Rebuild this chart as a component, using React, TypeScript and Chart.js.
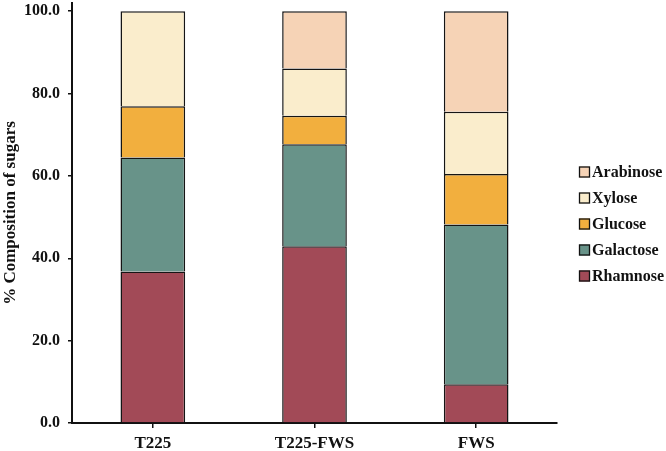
import { useEffect, useRef } from "react";
import { Chart, registerables } from "chart.js";

Chart.register(...registerables);

// Sugar composition (%) per sample
const categories = ["T225", "T225-FWS", "FWS"];
const rhamnose = [36.8, 42.9, 9.4];
const galactose = [27.7, 24.8, 38.8];
const glucose = [12.4, 6.9, 12.3];
const xylose = [23.1, 11.5, 15.1];
const arabinose = [null, 13.9, 24.4];
const yTicks = [0, 20, 40, 60, 80, 100];

const FONT = "'Liberation Serif', 'Times New Roman', Times, serif";

// Legend drawn to the right of the plot, top entry = last stacked series
const sideLegend = {
  id: "sideLegend",
  afterDraw(chart: any) {
    const { ctx, chartArea } = chart;
    const items = chart.data.datasets.slice().reverse();
    const step = 26;
    const box = 11;
    const x = chartArea.right + 22;
    const yMid = (chartArea.top + chartArea.bottom) / 2 + 11;
    const y0 = yMid - (step * (items.length - 1)) / 2;
    ctx.save();
    ctx.font = `bold 16px ${FONT}`;
    ctx.textBaseline = "middle";
    ctx.textAlign = "left";
    items.forEach((ds: any, i: number) => {
      const cy = Math.round(y0 + i * step);
      ctx.fillStyle = ds.backgroundColor;
      ctx.fillRect(x, cy - box / 2, box, box);
      ctx.strokeStyle = "#111";
      ctx.lineWidth = 1.3;
      ctx.strokeRect(x + 0.5, cy - box / 2 + 0.5, box - 1, box - 1);
      ctx.fillStyle = "#111";
      ctx.fillText(ds.label, x + box + 2, cy + 1);
    });
    ctx.restore();
  },
};

export default function App() {
  const ref = useRef<HTMLCanvasElement>(null);

  useEffect(() => {
    if (!ref.current) return;
    const mk = (label: string, data: (number | null)[], color: string) => ({
      label,
      data,
      backgroundColor: color,
      borderColor: "#151515",
      borderWidth: 1.5,
      barPercentage: 0.4,
      categoryPercentage: 1,
    });
    const chart = new Chart(ref.current, {
      type: "bar",
      data: {
        labels: categories,
        datasets: [
          mk("Rhamnose", rhamnose, "#A24A57"),
          mk("Galactose", galactose, "#689389"),
          mk("Glucose", glucose, "#F2AF3E"),
          mk("Xylose", xylose, "#FAEDCC"),
          mk("Arabinose", arabinose, "#F6D3B6"),
        ],
      },
      options: {
        animation: false,
        responsive: false,
        devicePixelRatio: 1,
        layout: { padding: { top: 3, right: 109, left: 0, bottom: 0 } },
        plugins: {
          legend: { display: false },
          tooltip: { enabled: false },
        },
        scales: {
          x: {
            stacked: true,
            offset: true,
            grid: {
              display: true,
              drawOnChartArea: false,
              drawTicks: true,
              tickLength: 5,
              offset: false,
              color: "#111",
              lineWidth: 1.5,
            },
            border: { display: true, color: "#111", width: 2 },
            ticks: {
              color: "#111",
              padding: 5,
              font: { family: FONT, size: 17, weight: "bold" },
            },
            afterFit(scale: any) {
              scale.height = 28;
              scale.paddingLeft = 0;
              scale.paddingRight = 0;
            },
          },
          y: {
            stacked: true,
            min: 0,
            max: 102,
            grid: {
              display: true,
              drawOnChartArea: false,
              drawTicks: true,
              tickLength: 4,
              color: "#111",
              lineWidth: 1.5,
            },
            border: { display: true, color: "#111", width: 2 },
            afterBuildTicks(scale: any) {
              scale.ticks = yTicks.map((v) => ({ value: v }));
            },
            ticks: {
              color: "#111",
              padding: 8,
              font: { family: FONT, size: 16, weight: "bold" },
              callback: (v: any) => Number(v).toFixed(1),
            },
            title: {
              display: true,
              text: "% Composition of sugars",
              color: "#111",
              padding: { top: 0, bottom: 0 },
              font: { family: FONT, size: 17, weight: "bold" },
            },
            afterFit(scale: any) {
              scale.width = 72;
              scale.paddingTop = 0;
              scale.paddingBottom = 0;
            },
          },
        },
      },
      plugins: [sideLegend],
    });
    return () => chart.destroy();
  }, []);

  return (
    <div style={{ position: "fixed", left: 0, top: 0, width: 666, height: 451, background: "#fff" }}>
      <canvas ref={ref} width={666} height={451} style={{ display: "block" }} />
    </div>
  );
}
